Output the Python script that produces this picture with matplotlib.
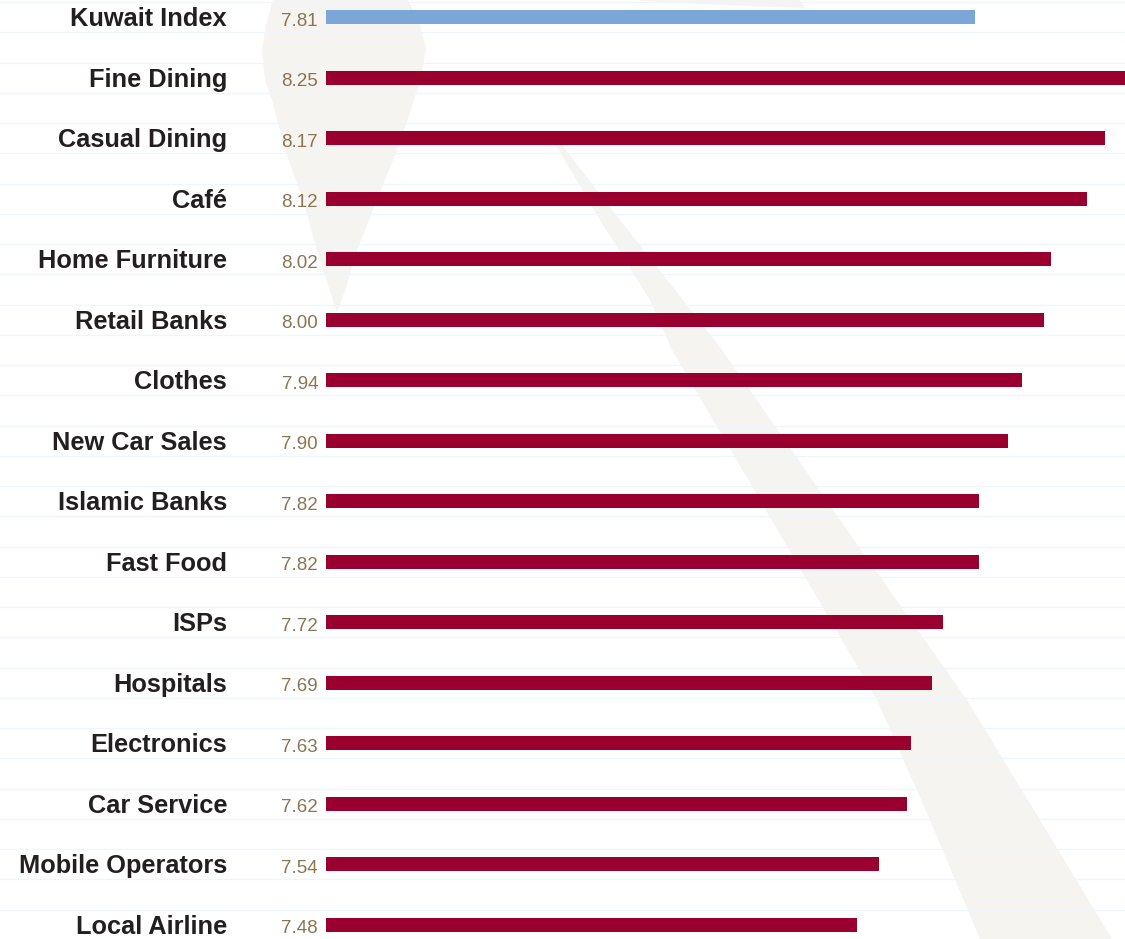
import matplotlib
matplotlib.use("Agg")
import matplotlib.pyplot as plt
from matplotlib.patches import Polygon
from matplotlib.transforms import Affine2D

categories = ["Kuwait Index", "Fine Dining", "Casual Dining", "Café", "Home Furniture",
              "Retail Banks", "Clothes", "New Car Sales", "Islamic Banks", "Fast Food",
              "ISPs", "Hospitals", "Electronics", "Car Service", "Mobile Operators",
              "Local Airline"]
scores = [7.81, 8.25, 8.17, 8.12, 8.02, 8.00, 7.94, 7.90, 7.82, 7.82,
          7.72, 7.69, 7.63, 7.62, 7.54, 7.48]
is_index = [True] + [False] * 15

W, H = 1125, 939
fig = plt.figure(figsize=(W / 100, H / 100), dpi=100)
fig.patch.set_facecolor("white")
ax = fig.add_axes([0, 0, 1, 1])
ax.set_facecolor("none")

base = 6.0
ppu = 358.8
x_left = base - 326 / ppu
x_right = base + (W - 326) / ppu
n = len(categories)
row_px = 60.53
ax.set_xlim(x_left, x_right)
ax.set_ylim(n - 1 + (H - 925) / row_px, -17 / row_px)
ax.axis("off")

# decorative background swoosh (image pixel coords)
pix = Affine2D().scale(1 / W, -1 / H).translate(0, 1) + fig.transFigure
beige = "#f6f4f0"
tear = [(273, 0), (266, 25), (262, 50), (265, 80), (272, 100), (285, 150), (303, 200),
        (317, 250), (327, 282), (337, 312), (346, 288), (357, 250), (377, 200),
        (397, 150), (411, 110), (420, 80), (426, 50), (420, 25), (408, 0)]
band = [(553, 140), (600, 220), (650, 300), (672, 350), (760, 500), (877, 700),
        (930, 820), (980, 939), (1112, 939), (1040, 820), (967, 700), (840, 520),
        (722, 350), (683, 300), (620, 220), (558, 140)]
top = [(630, 0), (800, 0), (805, 8), (720, 5)]
for pts in (tear, band, top):
    ax.add_patch(Polygon(pts, closed=True, transform=pix, facecolor=beige,
                         edgecolor="none", zorder=0))

# gridlines
half = 15 / row_px
for i in range(n):
    for dy in (-half, half):
        ax.axhline(i + dy, color="#eef5fb", lw=1.0, zorder=1)

colors = ["#7ba7d8" if f else "#990030" for f in is_index]
ys = list(range(n))
ax.barh(ys, [s - base for s in scores], left=base, height=14 / row_px,
        color=colors, zorder=2)

for i, (cat, s) in enumerate(zip(categories, scores)):
    ax.annotate(cat, xy=(base, i), xytext=(-99, -9), textcoords="offset pixels",
                ha="right", va="baseline", fontsize=18.3, fontweight="bold",
                family=["Liberation Sans", "DejaVu Sans"], color="#231f20", zorder=3)
    ax.annotate(f"{s:.2f}", xy=(base, i), xytext=(-8, -8.5), textcoords="offset pixels",
                ha="right", va="baseline", fontsize=13.5, fontweight="normal",
                family=["Liberation Sans", "DejaVu Sans"], color="#8a7553", zorder=3)

fig.savefig("out.png", dpi=100, facecolor="white")
